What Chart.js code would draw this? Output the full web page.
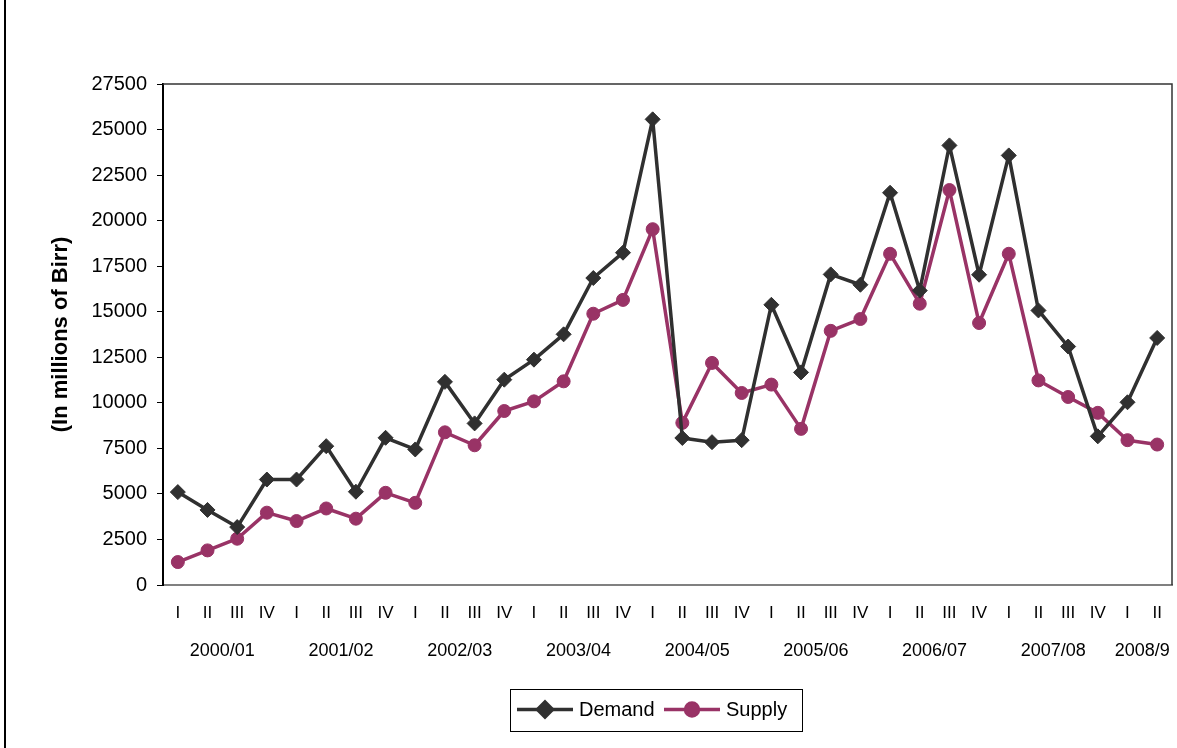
<!DOCTYPE html>
<html>
<head>
<meta charset="utf-8">
<script src="https://cdn.jsdelivr.net/npm/chart.js@4"></script>
<style>
  html, body { margin: 0; padding: 0; background: #fff; }
  #wrap { width: 1177px; height: 748px; }
</style>
</head>
<body>
<div id="wrap"><canvas id="chart" width="1177" height="748"></canvas></div>
<script>
const quarters = [
  "I", "II", "III", "IV", "I", "II", "III", "IV", "I", "II", "III", "IV",
  "I", "II", "III", "IV", "I", "II", "III", "IV", "I", "II", "III", "IV",
  "I", "II", "III", "IV", "I", "II", "III", "IV", "I", "II"
];
const years = ["2000/01", "2001/02", "2002/03", "2003/04", "2004/05", "2005/06", "2006/07", "2007/08", "2008/9"];

const demand = [
  5100, 4120, 3180, 5790, 5790, 7620, 5120, 8080, 7440, 11150, 8870, 11270,
  12370, 13760, 16850, 18240, 25560, 8070, 7840, 7950, 15380, 11670, 17050, 16480,
  21530, 16160, 24130, 17030, 23580, 15070, 13090, 8160, 10030, 13560
];
const supply = [
  1260, 1900, 2540, 3970, 3510, 4200, 3640, 5060, 4510, 8380, 7670, 9550,
  10080, 11180, 14890, 15650, 19530, 8900, 12190, 10540, 11000, 8570, 13950, 14600,
  18180, 15440, 21680, 14380, 18180, 11230, 10320, 9450, 7950, 7710
];

const FONT = "'Liberation Sans', Arial, sans-serif";
const DEMAND_COLOR = "#303030";
const SUPPLY_COLOR = "#993366";

// frame, plot border, year row and boxed legend
const extras = {
  id: "extras",
  beforeDraw(chart) {
    const ctx = chart.ctx;
    ctx.save();
    ctx.fillStyle = "#fff";
    ctx.fillRect(0, 0, chart.width, chart.height);
    ctx.fillStyle = "#000";
    ctx.fillRect(4, 0, 2, chart.height);
    ctx.restore();
  },
  afterDatasetsDraw(chart) {
    const { ctx, chartArea: a } = chart;
    ctx.save();
    ctx.strokeStyle = "#333";
    ctx.lineWidth = 1.5;
    ctx.beginPath();
    ctx.moveTo(a.left, a.top);
    ctx.lineTo(a.right, a.top);
    ctx.lineTo(a.right, a.bottom);
    ctx.stroke();
    ctx.restore();
  },
  afterDraw(chart) {
    const ctx = chart.ctx;
    const x = chart.scales.x;
    ctx.save();
    ctx.fillStyle = "#000";
    ctx.font = "18px " + FONT;
    ctx.textAlign = "center";
    ctx.textBaseline = "middle";
    years.forEach((y, g) => {
      const first = g * 4;
      const last = Math.min(first + 3, quarters.length - 1);
      const cx = (x.getPixelForValue(first) + x.getPixelForValue(last)) / 2;
      ctx.fillText(y, cx, 651);
    });

    // legend
    ctx.strokeStyle = "#000";
    ctx.lineWidth = 1;
    ctx.strokeRect(510.5, 689.5, 292, 42);
    const items = [
      { ds: chart.data.datasets[0], x0: 517 },
      { ds: chart.data.datasets[1], x0: 664 }
    ];
    ctx.font = "20px " + FONT;
    ctx.textAlign = "left";
    for (const it of items) {
      const ly = 709.5;
      ctx.strokeStyle = it.ds.borderColor;
      ctx.lineWidth = 3.5;
      ctx.beginPath();
      ctx.moveTo(it.x0, ly);
      ctx.lineTo(it.x0 + 56, ly);
      ctx.stroke();
      ctx.fillStyle = it.ds.borderColor;
      Chart.helpers.drawPoint(ctx, {
        pointStyle: it.ds.pointStyle, radius: it.ds.pointRadius, borderWidth: 1
      }, it.x0 + 28, ly);
      ctx.fill();
      ctx.fillStyle = "#000";
      ctx.fillText(it.ds.label, it.x0 + 62, ly + 1);
    }
    ctx.restore();
  }
};

new Chart(document.getElementById("chart"), {
  type: "line",
  data: {
    labels: quarters,
    datasets: [
      {
        label: "Demand", data: demand,
        borderColor: DEMAND_COLOR, backgroundColor: DEMAND_COLOR,
        borderWidth: 3.5, borderJoinStyle: "round", pointStyle: "rectRot", pointRadius: 7.5,
        pointBorderWidth: 1, tension: 0
      },
      {
        label: "Supply", data: supply,
        borderColor: SUPPLY_COLOR, backgroundColor: SUPPLY_COLOR,
        borderWidth: 3.5, borderJoinStyle: "round", pointStyle: "circle", pointRadius: 6.5,
        pointBorderWidth: 1, tension: 0
      }
    ]
  },
  options: {
    responsive: false,
    animation: false,
    layout: { autoPadding: false, padding: { left: 44, top: 84, right: 5, bottom: 0 } },
    plugins: { legend: { display: false }, tooltip: { enabled: false } },
    scales: {
      x: {
        offset: true,
        grid: { display: false },
        border: { display: true, color: "#808080", width: 2 },
        ticks: {
          color: "#000", font: { family: FONT, size: 17 },
          maxRotation: 0, autoSkip: false, padding: 10
        },
        afterFit(s) { s.height = 163; s.paddingLeft = 0; s.paddingRight = 0; }
      },
      y: {
        min: 0, max: 27500,
        grid: { drawOnChartArea: false, drawTicks: true, tickLength: 6, color: "#000" },
        border: { display: true, color: "#000", width: 2 },
        ticks: {
          stepSize: 2500, color: "#000", padding: 10,
          font: { family: FONT, size: 20 },
          callback: v => String(v)
        },
        title: {
          display: true, text: "(In millions of Birr)", color: "#000",
          font: { family: FONT, size: 22, weight: "bold" }
        },
        afterFit(s) { s.width = 119; }
      }
    }
  },
  plugins: [extras]
});
</script>
</body>
</html>
